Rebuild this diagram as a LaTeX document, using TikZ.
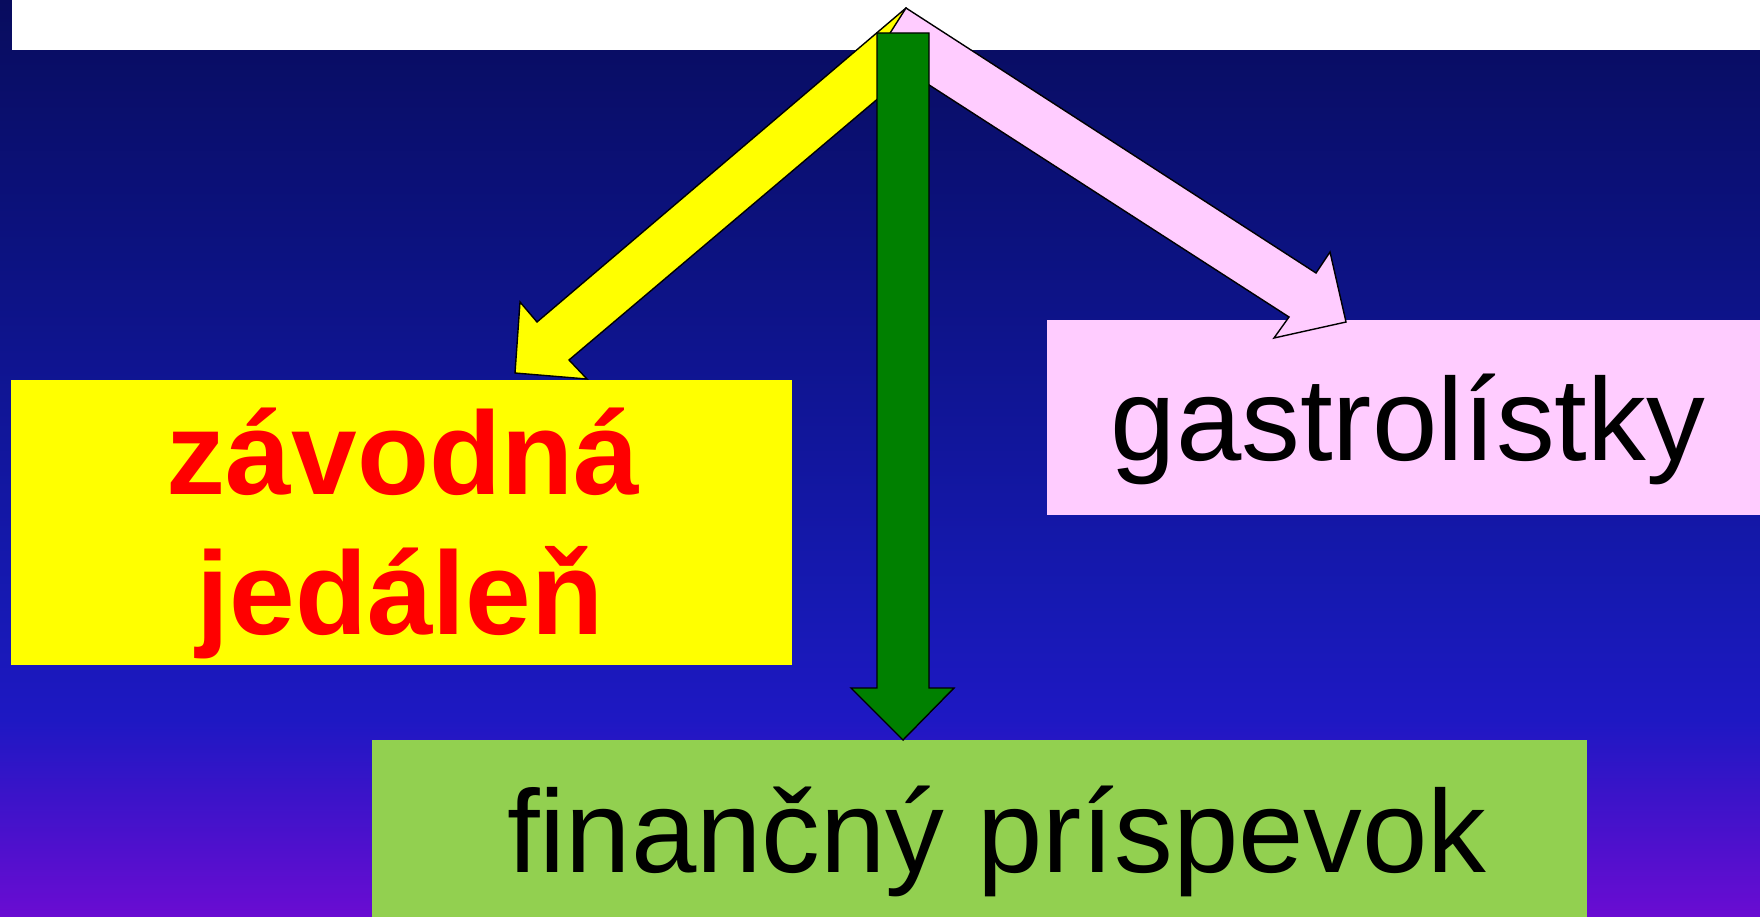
\documentclass[tikz,border=0pt]{standalone}
\usepackage{fontspec}
\setmainfont{Liberation Sans}
\definecolor{bgA}{RGB}{8,12,94}
\definecolor{bgB}{RGB}{13,19,135}
\definecolor{bgC}{RGB}{22,25,178}
\definecolor{bgD}{RGB}{30,24,195}
\definecolor{bgE}{RGB}{106,12,210}
\definecolor{boxyellow}{RGB}{255,255,0}
\definecolor{boxpink}{RGB}{255,204,255}
\definecolor{boxgreen}{RGB}{146,208,80}
\definecolor{arrowgreen}{RGB}{0,128,0}
\definecolor{textred}{RGB}{255,0,0}
\tikzset{
  boxfill/.style={draw=none},
  blockarrow/.style={draw=black, line width=1.4pt, line join=miter},
  bigtext/.style={font=\fontsize{117.5}{141}\selectfont, anchor=base, inner sep=0pt},
  redtext/.style={font=\bfseries\fontsize{118}{141}\selectfont, text=textred, anchor=base, inner sep=0pt}
}
\begin{document}
\begin{tikzpicture}[x=1pt,y=-1pt]
\useasboundingbox (0,0) rectangle (1760,917);
% background gradient
\shade[top color=bgA, bottom color=bgB] (0,0) rectangle (1760,300.5);
\shade[top color=bgB, bottom color=bgC] (0,300) rectangle (1760,600.5);
\shade[top color=bgC, bottom color=bgD] (0,600) rectangle (1760,720.5);
\shade[top color=bgD, bottom color=bgE] (0,720) rectangle (1760,917);
% white top band
\fill[white] (12,0) rectangle (1760,50);
% boxes
\fill[boxyellow] (11,380) rectangle (792,665);
\fill[boxpink] (1047,320) rectangle (1760,515);
\fill[boxgreen] (372,740) rectangle (1587,917);
% texts
\node[redtext] (zav) at (403,494) {závodná};
\node[redtext] (jed) at (400,634) {jedáleň};
\node[bigtext] (gas) at (1408,460) {gastrolístky};
\node[bigtext] (fin) at (997,872) {finančný príspevok};
% arrows
\coordinate (apex) at (906,8);
\draw[blockarrow, fill=boxyellow] (apex) -- (537,322) -- (520,302) -- (515,373) -- (587,379) -- (569,360) -- (939,47) -- cycle;
\draw[blockarrow, fill=boxpink] (apex) -- (1316,273) -- (1330,252) -- (1346,322) -- (1274,338) -- (1289,317) -- (878,52) -- cycle;
\draw[blockarrow, fill=arrowgreen] (877,33) -- (929,33) -- (929,688) -- (954,688) -- (903,740) -- (851,688) -- (877,688) -- cycle;
\end{tikzpicture}
\end{document}
